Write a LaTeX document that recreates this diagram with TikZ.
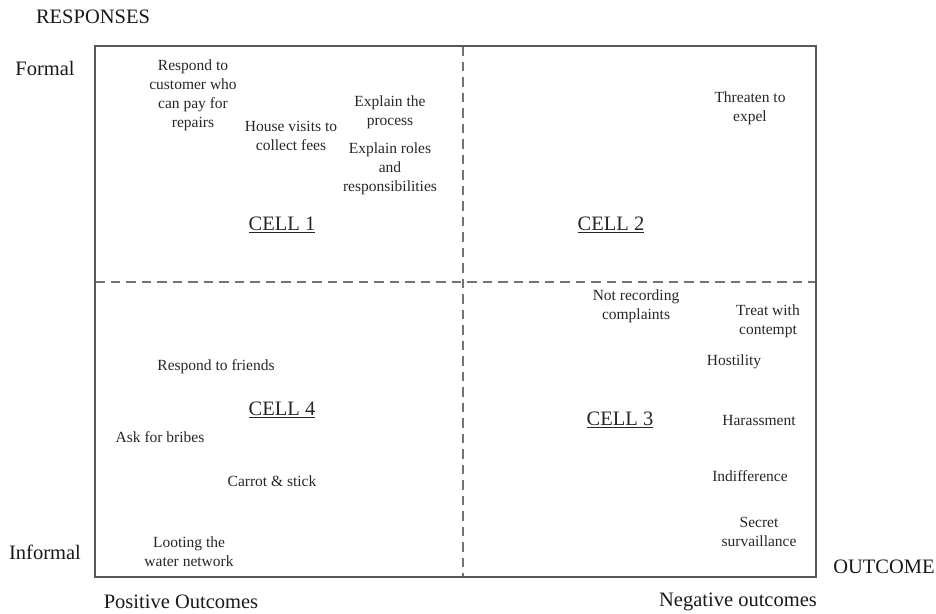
\documentclass[tikz,border=0pt]{standalone}
\usepackage{fontspec}
\setmainfont{Liberation Serif}
\usetikzlibrary{calc, positioning}

\begin{document}
\begin{tikzpicture}[x=1pt, y=-1pt,
  item/.style={align=center, font=\fontsize{15.5}{19}\selectfont, text=black!85, inner sep=0pt},
  cell/.style={font=\fontsize{20.5}{24}\selectfont, text=black!85, inner sep=0pt},
  axislabel/.style={font=\fontsize{20.5}{24}\selectfont, text=black!90, inner sep=0pt},
  frame/.style={draw=black!65, line width=1.4pt},
  divider/.style={draw=black!55, line width=1.3pt, dash pattern=on 9.5pt off 6pt}]
\useasboundingbox (0,0) rectangle (936,613);

% the grid
\coordinate (NW) at (95,46);
\coordinate (SE) at (816,577);
\coordinate (Ntop) at (463,46);
\coordinate (Nbot) at (463,577);
\coordinate (Wmid) at (95,282);
\coordinate (Emid) at (816,282);

\draw[divider] (Ntop) -- (Nbot);
\draw[divider] (Wmid) -- (Emid);
\draw[frame] (NW) rectangle (SE);

% axis labels
\node[axislabel] (responses) at (93,17) {RESPONSES};
\node[axislabel] (formal) at (45,68) {Formal};
\node[axislabel] (informal) at (45,552) {Informal};
\node[axislabel] (positive) at (181,602) {Positive Outcomes};
\node[axislabel] (negative) at (738,602) {Negative outcomes};
\node[axislabel] (outcome) at (884,567) {OUTCOME};

% cell titles
\node[cell] (cellA) at (282,225) {\underline{CELL 1}};
\node[cell] (cellB) at (611,225) {\underline{CELL 2}};
\node[cell] (cellC) at (620,420) {\underline{CELL 3}};
\node[cell] (cellD) at (282,410) {\underline{CELL 4}};

% cell 1
\node[item] (customer) at (193,95) {Respond to\\customer who\\can pay for\\repairs};
\node[item] (visits) at (291,136) {House visits to\\collect fees};
\node[item] (process) at (390,112) {Explain the\\process};
\node[item] (roles) at (390,169) {Explain roles\\and\\responsibilities};

% cell 2
\node[item] (expel) at (750,108) {Threaten to\\expel};

% cell 3
\node[item] (norecord) at (636,306) {Not recording\\complaints};
\node[item] (contempt) at (768,321) {Treat with\\contempt};
\node[item] (hostility) at (734,362) {Hostility};
\node[item] (harass) at (759,420) {Harassment};
\node[item] (indiff) at (750,476) {Indifference};
\node[item] (secret) at (759,532) {Secret\\survaillance};

% cell 4
\node[item] (friends) at (216,367) {Respond to friends};
\node[item] (bribes) at (160,437) {Ask for bribes};
\node[item] (carrot) at (272,481) {Carrot \& stick};
\node[item] (looting) at (189,552) {Looting the\\water network};
\end{tikzpicture}
\end{document}
